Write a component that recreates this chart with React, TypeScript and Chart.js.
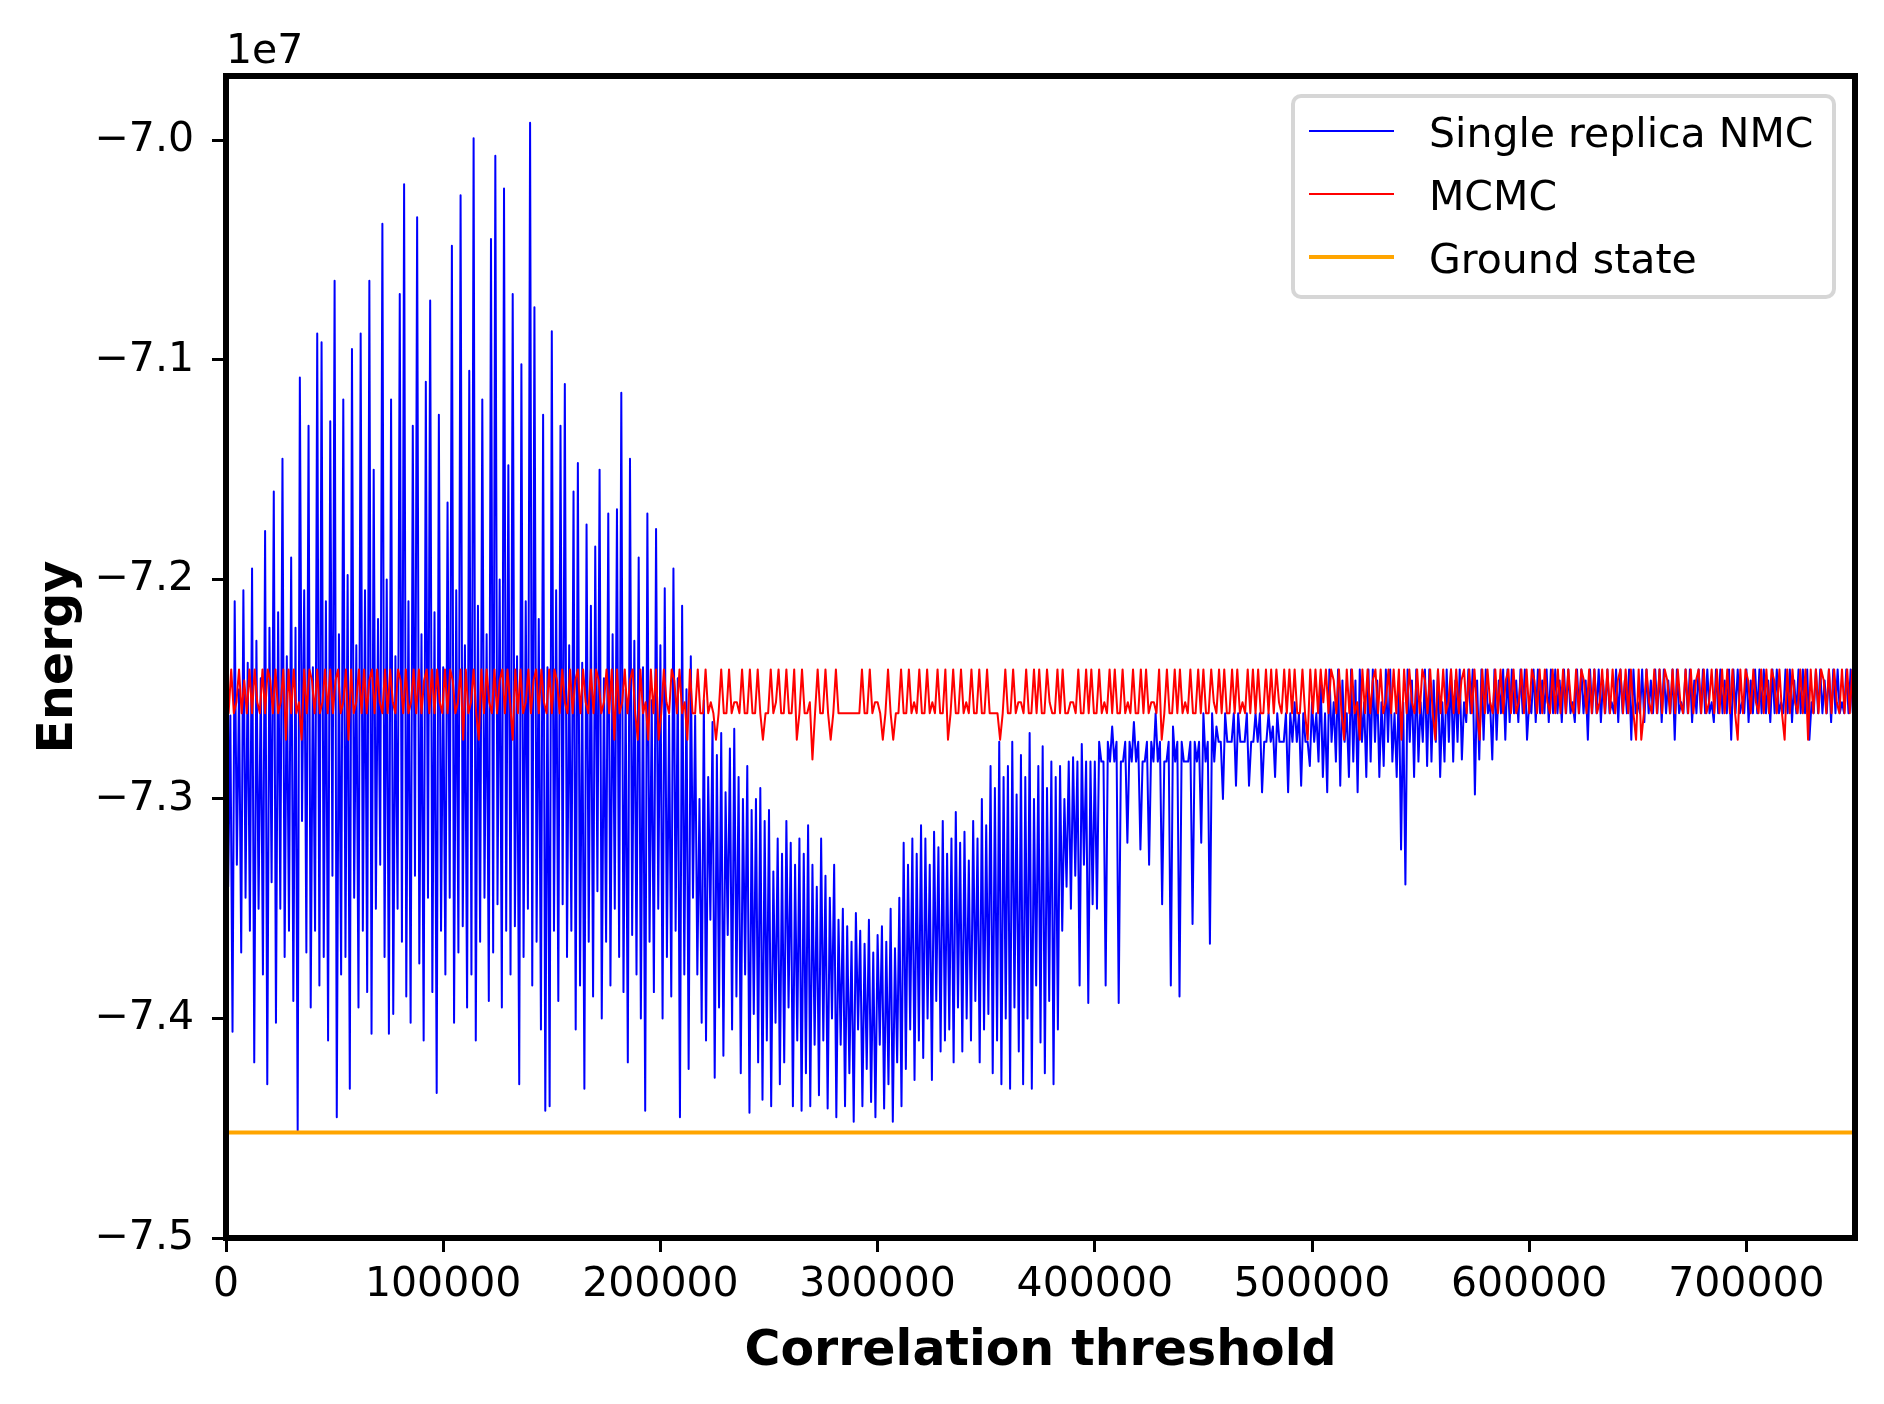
import { useEffect, useRef } from "react";
import { Chart, registerables } from "chart.js";

Chart.register(...registerables);

// ---- axes ----
const X_MIN = 0;
const X_MAX = 750000;
const Y_MIN = -7.5;
const Y_MAX = -6.9707;
const xTicks = [0, 100000, 200000, 300000, 400000, 500000, 600000, 700000];
const yTicks = [-7.5, -7.4, -7.3, -7.2, -7.1, -7.0];
const xTitle = "Correlation threshold";
const yTitle = "Energy";
const yOffsetText = "1e7";
const seriesLabels = ["Single replica NMC", "MCMC", "Ground state"];
const seriesColors = ["#0000ff", "#ff0000", "#ffa500"];

// ---- Single replica NMC (energy / 1e7): highest and lowest value in each bin of nmcBin ----
const nmcBin = 2000;
const nmcHigh = [
  -7.215,-7.262,-7.210,-7.250,-7.205,-7.238,-7.195,-7.228,-7.245,-7.178,-7.222,-7.160,
  -7.215,-7.145,-7.235,-7.190,-7.222,-7.108,-7.205,-7.130,-7.240,-7.088,-7.092,-7.210,
  -7.128,-7.064,-7.225,-7.118,-7.198,-7.095,-7.230,-7.088,-7.205,-7.064,-7.150,-7.218,
  -7.038,-7.200,-7.118,-7.235,-7.070,-7.020,-7.210,-7.130,-7.035,-7.225,-7.110,-7.073,
  -7.215,-7.125,-7.240,-7.165,-7.048,-7.205,-7.025,-7.230,-7.105,-6.999,-7.212,-7.118,
  -7.225,-7.045,-7.007,-7.200,-7.022,-7.148,-7.070,-7.235,-7.102,-7.210,-6.992,-7.076,
  -7.218,-7.125,-7.240,-7.087,-7.205,-7.130,-7.111,-7.230,-7.160,-7.147,-7.238,-7.175,
  -7.212,-7.185,-7.150,-7.245,-7.170,-7.225,-7.168,-7.115,-7.250,-7.145,-7.228,-7.190,
  -7.240,-7.170,-7.255,-7.177,-7.230,-7.204,-7.262,-7.195,-7.245,-7.212,-7.250,-7.235,
  -7.262,-7.300,-7.255,-7.290,-7.265,-7.280,-7.270,-7.297,-7.277,-7.268,-7.290,-7.300,
  -7.285,-7.305,-7.300,-7.295,-7.310,-7.305,-7.333,-7.318,-7.325,-7.310,-7.320,-7.330,
  -7.318,-7.325,-7.312,-7.330,-7.340,-7.318,-7.335,-7.345,-7.330,-7.355,-7.350,-7.358,
  -7.365,-7.352,-7.360,-7.366,-7.355,-7.370,-7.362,-7.358,-7.365,-7.350,-7.368,-7.345,
  -7.320,-7.330,-7.318,-7.325,-7.312,-7.318,-7.330,-7.315,-7.322,-7.310,-7.325,-7.318,
  -7.306,-7.320,-7.315,-7.328,-7.310,-7.318,-7.300,-7.312,-7.285,-7.295,-7.274,-7.290,
  -7.285,-7.274,-7.298,-7.280,-7.290,-7.270,-7.300,-7.285,-7.276,-7.295,-7.283,-7.290,
  -7.285,-7.300,-7.283,-7.281,-7.283,-7.275,-7.283,-7.283,
  -7.283,-7.274,-7.283,-7.274,-7.267,-7.274,-7.283,-7.274,-7.274,-7.265,-7.274,-7.283,
  -7.274,-7.274,-7.261,-7.274,-7.283,-7.274,-7.267,-7.274,-7.274,-7.283,-7.274,-7.274,
  -7.274,-7.261,-7.274,-7.261,-7.267,-7.274,-7.261,-7.274,-7.261,-7.261,-7.274,-7.261,
  -7.274,-7.261,-7.261,-7.274,-7.261,-7.267,-7.261,-7.274,-7.261,-7.261,-7.256,-7.261,
  -7.261,-7.274,-7.256,-7.261,-7.246,-7.261,-7.241,-7.256,-7.241,-7.246,-7.261,-7.241,
  -7.246,-7.241,-7.256,-7.241,-7.241,-7.246,-7.256,-7.241,-7.241,-7.261,-7.246,-7.256,
  -7.241,-7.246,-7.241,-7.256,-7.241,-7.241,-7.246,-7.241,-7.256,-7.241,-7.241,-7.246,
  -7.241,-7.256,-7.241,-7.241,-7.246,-7.241,-7.241,-7.256,-7.241,-7.246,-7.241,-7.241,
  -7.241,-7.246,-7.241,-7.241,-7.256,-7.241,-7.241,-7.246,-7.241,-7.241,-7.241,-7.246,
  -7.241,-7.241,-7.256,-7.241,-7.241,-7.246,-7.241,-7.241,-7.241,-7.246,-7.241,-7.256,
  -7.241,-7.241,-7.246,-7.241,-7.241,-7.256,-7.241,-7.241,-7.246,-7.241,-7.241,-7.241,
  -7.246,-7.241,-7.241,-7.256,-7.241,-7.241,-7.246,-7.241,-7.241,-7.241,-7.256,-7.241,
  -7.241,-7.246,-7.241,-7.241,-7.241,-7.256,-7.241,-7.246,-7.241,-7.241,-7.241,-7.246,
  -7.241,-7.241,-7.256,-7.241,-7.241,-7.246,-7.241,-7.241,-7.241,-7.256,-7.241,-7.241,
  -7.246,-7.241,-7.241,-7.241,-7.256,-7.241,-7.241,
];
const nmcLow = [
  -7.340,-7.406,-7.330,-7.370,-7.345,-7.360,-7.420,-7.350,-7.380,-7.430,-7.338,-7.402,
  -7.350,-7.372,-7.360,-7.392,-7.451,-7.310,-7.370,-7.395,-7.360,-7.385,-7.372,-7.410,
  -7.335,-7.445,-7.380,-7.372,-7.432,-7.345,-7.395,-7.360,-7.388,-7.407,-7.350,-7.330,
  -7.372,-7.407,-7.398,-7.350,-7.365,-7.390,-7.402,-7.335,-7.375,-7.410,-7.345,-7.388,
  -7.434,-7.360,-7.380,-7.345,-7.402,-7.370,-7.358,-7.395,-7.380,-7.410,-7.365,-7.345,
  -7.392,-7.370,-7.348,-7.395,-7.360,-7.380,-7.358,-7.430,-7.372,-7.350,-7.385,-7.365,
  -7.405,-7.442,-7.440,-7.360,-7.392,-7.348,-7.372,-7.360,-7.405,-7.385,-7.432,-7.365,
  -7.390,-7.342,-7.400,-7.365,-7.385,-7.350,-7.372,-7.388,-7.420,-7.362,-7.380,-7.400,
  -7.442,-7.365,-7.388,-7.350,-7.400,-7.372,-7.390,-7.360,-7.445,-7.380,-7.423,-7.345,
  -7.380,-7.402,-7.410,-7.355,-7.427,-7.395,-7.417,-7.362,-7.405,-7.390,-7.425,-7.380,
  -7.443,-7.398,-7.420,-7.437,-7.410,-7.440,-7.402,-7.430,-7.420,-7.395,-7.440,-7.410,
  -7.442,-7.425,-7.440,-7.412,-7.435,-7.410,-7.441,-7.400,-7.445,-7.412,-7.440,-7.425,
  -7.447,-7.405,-7.440,-7.423,-7.438,-7.445,-7.412,-7.441,-7.430,-7.447,-7.420,-7.440,
  -7.423,-7.405,-7.428,-7.410,-7.418,-7.400,-7.428,-7.392,-7.415,-7.410,-7.405,-7.420,
  -7.395,-7.415,-7.400,-7.410,-7.392,-7.420,-7.405,-7.398,-7.425,-7.410,-7.430,-7.400,
  -7.432,-7.395,-7.415,-7.430,-7.400,-7.432,-7.385,-7.411,-7.425,-7.392,-7.430,-7.405,
  -7.360,-7.340,-7.350,-7.335,-7.385,-7.330,-7.393,-7.348,
  -7.350,-7.283,-7.385,-7.283,-7.283,-7.393,-7.283,-7.320,-7.283,-7.283,-7.323,-7.283,
  -7.330,-7.283,-7.283,-7.348,-7.283,-7.385,-7.283,-7.390,-7.283,-7.283,-7.357,-7.283,
  -7.320,-7.283,-7.366,-7.283,-7.274,-7.300,-7.274,-7.274,-7.294,-7.274,-7.274,-7.294,
  -7.274,-7.274,-7.297,-7.274,-7.274,-7.290,-7.274,-7.274,-7.297,-7.274,-7.274,-7.294,
  -7.274,-7.285,-7.274,-7.283,-7.290,-7.297,-7.274,-7.283,-7.294,-7.274,-7.290,-7.283,
  -7.297,-7.274,-7.290,-7.283,-7.274,-7.290,-7.285,-7.274,-7.283,-7.290,-7.323,-7.339,
  -7.274,-7.290,-7.283,-7.274,-7.285,-7.283,-7.274,-7.290,-7.283,-7.274,-7.283,-7.274,
  -7.282,-7.265,-7.261,-7.298,-7.282,-7.273,-7.261,-7.282,-7.273,-7.261,-7.273,-7.265,
  -7.261,-7.265,-7.261,-7.273,-7.261,-7.265,-7.261,-7.261,-7.265,-7.261,-7.261,-7.265,
  -7.261,-7.261,-7.265,-7.261,-7.261,-7.273,-7.261,-7.261,-7.265,-7.261,-7.261,-7.261,
  -7.265,-7.261,-7.261,-7.273,-7.261,-7.261,-7.265,-7.261,-7.261,-7.261,-7.265,-7.261,
  -7.261,-7.273,-7.261,-7.261,-7.261,-7.265,-7.261,-7.261,-7.261,-7.261,-7.265,-7.261,
  -7.261,-7.261,-7.273,-7.261,-7.261,-7.261,-7.265,-7.261,-7.261,-7.261,-7.261,-7.265,
  -7.261,-7.261,-7.261,-7.261,-7.265,-7.261,-7.261,-7.261,-7.273,-7.261,-7.261,-7.261,
  -7.261,-7.265,-7.261,-7.261,-7.261,-7.261,-7.261,
];

// ---- MCMC (energy / 1e7), sampled every mcmcStep ----
const mcmcStep = 1200;
const mcmcEnergy = [
  -7.241,-7.261,-7.241,-7.261,-7.256,-7.241,-7.261,-7.246,-7.261,-7.241,
  -7.261,-7.241,-7.256,-7.261,-7.241,-7.261,-7.241,-7.246,-7.261,-7.241,
  -7.261,-7.256,-7.241,-7.273,-7.241,-7.261,-7.241,-7.261,-7.256,-7.273,
  -7.241,-7.261,-7.241,-7.246,-7.261,-7.241,-7.261,-7.256,-7.241,-7.261,
  -7.241,-7.261,-7.246,-7.241,-7.261,-7.256,-7.241,-7.273,-7.241,-7.261,
  -7.256,-7.241,-7.261,-7.241,-7.261,-7.246,-7.241,-7.261,-7.241,-7.256,
  -7.261,-7.241,-7.261,-7.241,-7.256,-7.261,-7.241,-7.246,-7.261,-7.241,
  -7.261,-7.256,-7.241,-7.261,-7.241,-7.261,-7.246,-7.241,-7.261,-7.241,
  -7.261,-7.241,-7.256,-7.261,-7.241,-7.261,-7.241,-7.246,-7.261,-7.256,
  -7.241,-7.273,-7.241,-7.261,-7.256,-7.241,-7.261,-7.273,-7.241,-7.261,
  -7.241,-7.256,-7.261,-7.241,-7.261,-7.246,-7.241,-7.261,-7.241,-7.256,
  -7.273,-7.241,-7.261,-7.241,-7.261,-7.256,-7.241,-7.261,-7.246,-7.241,
  -7.261,-7.241,-7.256,-7.261,-7.241,-7.261,-7.241,-7.246,-7.261,-7.241,
  -7.256,-7.261,-7.241,-7.261,-7.246,-7.241,-7.261,-7.241,-7.256,-7.261,
  -7.241,-7.261,-7.241,-7.246,-7.261,-7.256,-7.241,-7.261,-7.241,-7.273,
  -7.241,-7.261,-7.256,-7.241,-7.261,-7.246,-7.241,-7.261,-7.273,-7.241,
  -7.261,-7.256,-7.273,-7.241,-7.261,-7.241,-7.273,-7.261,-7.241,-7.256,
  -7.261,-7.241,-7.246,-7.261,-7.241,-7.261,-7.256,-7.273,-7.241,-7.261,
  -7.261,-7.241,-7.261,-7.261,-7.241,-7.261,-7.256,-7.261,-7.273,-7.261,-7.241,-7.261,
  -7.261,-7.241,-7.261,-7.256,-7.256,-7.261,-7.241,-7.261,-7.261,-7.241,-7.261,-7.261,
  -7.241,-7.261,-7.273,-7.261,-7.261,-7.241,-7.261,-7.256,-7.241,-7.261,-7.261,-7.241,
  -7.261,-7.261,-7.241,-7.273,-7.261,-7.241,-7.261,-7.261,-7.256,-7.282,-7.261,-7.241,
  -7.261,-7.261,-7.241,-7.261,-7.273,-7.261,-7.241,-7.261,-7.261,-7.261,-7.261,-7.261,
  -7.261,-7.261,-7.261,-7.261,-7.241,-7.261,-7.261,-7.241,-7.261,-7.256,-7.256,-7.261,
  -7.273,-7.261,-7.241,-7.261,-7.273,-7.261,-7.261,-7.241,-7.261,-7.261,-7.241,-7.261,
  -7.256,-7.261,-7.241,-7.261,-7.261,-7.241,-7.261,-7.256,-7.261,-7.241,-7.261,-7.261,
  -7.241,-7.273,-7.261,-7.241,-7.261,-7.261,-7.241,-7.261,-7.256,-7.261,-7.241,-7.261,
  -7.261,-7.241,-7.261,-7.261,-7.241,-7.261,-7.261,-7.261,-7.261,-7.273,-7.261,-7.241,
  -7.261,-7.261,-7.241,-7.261,-7.256,-7.256,-7.261,-7.241,-7.261,-7.261,-7.241,-7.261,
  -7.241,-7.261,-7.261,-7.241,-7.256,-7.261,-7.261,-7.241,-7.261,-7.241,-7.261,-7.261,
  -7.256,-7.256,-7.261,-7.241,-7.261,-7.261,-7.241,-7.261,-7.241,-7.261,-7.261,-7.241,
  -7.261,-7.256,-7.261,-7.241,-7.261,-7.241,-7.261,-7.261,-7.241,-7.261,-7.256,-7.261,
  -7.241,-7.261,-7.261,-7.241,-7.261,-7.241,-7.261,-7.256,-7.256,-7.261,-7.241,-7.273,
  -7.261,-7.241,-7.261,-7.261,-7.241,-7.261,-7.241,-7.261,-7.256,-7.261,-7.241,-7.261,
  -7.261,-7.241,-7.261,-7.241,-7.261,-7.261,-7.241,-7.256,-7.261,-7.241,-7.261,-7.241,
  -7.261,-7.261,-7.241,-7.261,-7.241,-7.261,-7.256,-7.261,-7.241,-7.261,-7.241,-7.261,
  -7.241,-7.261,-7.261,-7.241,-7.261,-7.241,-7.261,-7.241,-7.256,-7.261,-7.241,-7.261,
  -7.241,-7.261,-7.241,-7.261,-7.261,-7.241,-7.261,-7.273,-7.241,
  -7.261,-7.241,-7.261,-7.241,-7.256,-7.241,-7.261,-7.241,-7.246,-7.261,-7.241,-7.261,
  -7.273,-7.241,-7.261,-7.241,-7.261,-7.256,-7.273,-7.241,-7.261,-7.241,-7.261,-7.246,
  -7.241,-7.261,-7.241,-7.261,-7.256,-7.241,-7.261,-7.241,-7.261,-7.241,-7.273,-7.241,
  -7.261,-7.241,-7.256,-7.261,-7.241,-7.261,-7.241,-7.246,-7.261,-7.241,-7.261,-7.273,
  -7.241,-7.261,-7.241,-7.261,-7.256,-7.241,-7.261,-7.241,-7.261,-7.246,-7.241,-7.261,
  -7.241,-7.261,-7.241,-7.261,-7.273,-7.241,-7.261,-7.241,-7.256,-7.261,-7.241,-7.261,
  -7.241,-7.261,-7.246,-7.241,-7.261,-7.241,-7.261,-7.256,-7.241,-7.261,-7.241,-7.261,
  -7.241,-7.246,-7.261,-7.241,-7.261,-7.241,-7.256,-7.261,-7.241,-7.261,-7.241,-7.261,
  -7.241,-7.261,-7.241,-7.256,-7.261,-7.241,-7.261,-7.241,-7.246,-7.261,-7.241,-7.261,
  -7.241,-7.261,-7.256,-7.241,-7.261,-7.241,-7.261,-7.241,-7.261,-7.246,-7.241,-7.261,
  -7.241,-7.261,-7.241,-7.261,-7.273,-7.241,-7.273,-7.261,-7.241,-7.256,-7.261,-7.241,
  -7.261,-7.241,-7.261,-7.241,-7.246,-7.261,-7.241,-7.261,-7.241,-7.256,-7.261,-7.241,
  -7.261,-7.241,-7.261,-7.246,-7.241,-7.261,-7.241,-7.261,-7.256,-7.241,-7.261,-7.241,
  -7.261,-7.241,-7.261,-7.241,-7.261,-7.241,-7.261,-7.273,-7.241,-7.261,-7.241,-7.246,
  -7.261,-7.241,-7.256,-7.261,-7.241,-7.261,-7.241,-7.261,-7.241,-7.246,-7.261,-7.241,
  -7.261,-7.273,-7.241,-7.261,-7.241,-7.256,-7.261,-7.241,-7.261,-7.241,-7.273,-7.241,
  -7.261,-7.241,-7.261,-7.241,-7.246,-7.261,-7.241,-7.261,-7.241,-7.256,-7.261,-7.241,
  -7.261,-7.241,-7.261,-7.241,
];

// ---- Ground state (energy / 1e7) ----
const groundState = -7.452;

const FONT = '"DejaVu Sans", "Liberation Sans", sans-serif';

function formatY(v: number): string {
  const s = Math.abs(v).toFixed(1);
  return v < 0 ? "\u2212" + s : s;
}

const decorPlugin = {
  id: "decor",
  afterDraw(chart: any) {
    const { ctx, chartArea: a } = chart;
    ctx.save();
    ctx.strokeStyle = "#000";
    ctx.lineWidth = 6;
    ctx.strokeRect(a.left, a.top, a.right - a.left, a.bottom - a.top);

    ctx.fillStyle = "#000";
    ctx.font = `41px ${FONT}`;
    ctx.textAlign = "left";
    ctx.textBaseline = "alphabetic";
    ctx.fillText(yOffsetText, a.left, 63);

    ctx.font = `bold 49px ${FONT}`;
    ctx.textAlign = "center";
    ctx.fillText(xTitle, (a.left + a.right) / 2, 1365);

    ctx.save();
    ctx.translate(72, (a.top + a.bottom) / 2);
    ctx.rotate(-Math.PI / 2);
    ctx.fillText(yTitle, 0, 0);
    ctx.restore();

    const w = 541;
    const h = 201;
    const bx = a.right - 21 - w;
    const by = a.top + 20;
    const r = 8;
    ctx.beginPath();
    ctx.moveTo(bx + r, by);
    ctx.lineTo(bx + w - r, by);
    ctx.arcTo(bx + w, by, bx + w, by + r, r);
    ctx.lineTo(bx + w, by + h - r);
    ctx.arcTo(bx + w, by + h, bx + w - r, by + h, r);
    ctx.lineTo(bx + r, by + h);
    ctx.arcTo(bx, by + h, bx, by + h - r, r);
    ctx.lineTo(bx, by + r);
    ctx.arcTo(bx, by, bx + r, by, r);
    ctx.closePath();
    ctx.fillStyle = "rgba(255,255,255,0.8)";
    ctx.fill();
    ctx.strokeStyle = "rgba(204,204,204,0.8)";
    ctx.lineWidth = 4;
    ctx.stroke();

    const widths = [2, 2, 4];
    ctx.font = `41px ${FONT}`;
    ctx.textAlign = "left";
    ctx.textBaseline = "alphabetic";
    for (let k = 0; k < seriesLabels.length; k++) {
      const cy = by + 35 + k * 63;
      ctx.beginPath();
      ctx.strokeStyle = seriesColors[k];
      ctx.lineWidth = widths[k];
      ctx.moveTo(bx + 16, cy);
      ctx.lineTo(bx + 101, cy);
      ctx.stroke();
      ctx.fillStyle = "#000";
      ctx.fillText(seriesLabels[k], bx + 136, cy + 16);
    }
    ctx.restore();
  },
};

export default function App() {
  const canvasRef = useRef<HTMLCanvasElement | null>(null);

  useEffect(() => {
    const canvas = canvasRef.current;
    if (!canvas) return;

    const nmcPoints: { x: number; y: number }[] = [];
    nmcHigh.forEach((hi, k) => {
      nmcPoints.push({ x: k * nmcBin, y: hi });
      nmcPoints.push({ x: k * nmcBin + nmcBin / 2, y: nmcLow[k] });
    });
    const mcmcPoints = mcmcEnergy.map((y, i) => ({ x: i * mcmcStep, y }));
    const groundPoints = [
      { x: X_MIN, y: groundState },
      { x: X_MAX, y: groundState },
    ];

    const tickFont = { family: FONT, size: 41 };
    const gridOpts = {
      drawOnChartArea: false,
      drawTicks: true,
      tickLength: 14,
      lineWidth: 3,
      tickWidth: 3,
      color: "#000",
      tickColor: "#000",
    };

    const chart = new Chart(canvas, {
      type: "line",
      data: {
        datasets: [
          {
            label: seriesLabels[0],
            data: nmcPoints,
            borderColor: seriesColors[0],
            borderWidth: 2,
            pointRadius: 0,
            borderJoinStyle: "round",
            order: 3,
          },
          {
            label: seriesLabels[1],
            data: mcmcPoints,
            borderColor: seriesColors[1],
            borderWidth: 2,
            pointRadius: 0,
            borderJoinStyle: "round",
            order: 2,
          },
          {
            label: seriesLabels[2],
            data: groundPoints,
            borderColor: seriesColors[2],
            borderWidth: 4,
            pointRadius: 0,
            order: 1,
          },
        ],
      },
      options: {
        responsive: false,
        animation: false,
        events: [],
        layout: { padding: { left: 0, top: 76, right: 29, bottom: 0 } },
        elements: { line: { tension: 0, fill: false }, point: { radius: 0 } },
        plugins: {
          legend: { display: false },
          tooltip: { enabled: false },
          title: { display: false },
        },
        scales: {
          x: {
            type: "linear",
            min: X_MIN,
            max: X_MAX,
            afterBuildTicks: (s: any) => {
              s.ticks = xTicks.map((v) => ({ value: v }));
            },
            afterFit: (s: any) => {
              s.height = 166;
            },
            grid: gridOpts,
            border: { display: false },
            ticks: {
              font: tickFont,
              color: "#000",
              padding: 9,
              maxRotation: 0,
              autoSkip: false,
              callback: (v: any) => String(v),
            },
          },
          y: {
            type: "linear",
            min: Y_MIN,
            max: Y_MAX,
            afterBuildTicks: (s: any) => {
              s.ticks = yTicks.map((v) => ({ value: v }));
            },
            afterFit: (s: any) => {
              s.width = 226;
            },
            grid: gridOpts,
            border: { display: false },
            ticks: {
              font: tickFont,
              color: "#000",
              padding: 18,
              autoSkip: false,
              callback: (v: any) => formatY(Number(v)),
            },
          },
        },
      } as any,
      plugins: [decorPlugin],
    });

    return () => {
      chart.destroy();
    };
  }, []);

  return (
    <div style={{ position: "absolute", left: 0, top: 0, width: 1884, height: 1404, background: "#fff" }}>
      <canvas ref={canvasRef} width={1884} height={1404} style={{ display: "block", width: 1884, height: 1404 }} />
    </div>
  );
}
